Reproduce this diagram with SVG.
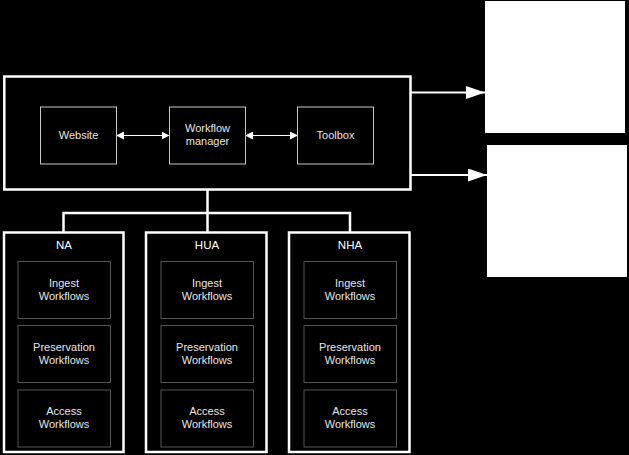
<svg xmlns="http://www.w3.org/2000/svg" width="629" height="455" viewBox="0 0 629 455">
<defs>
<marker id="ah" markerWidth="8" markerHeight="8" refX="7" refY="4" orient="auto-start-reverse" markerUnits="userSpaceOnUse"><path d="M0,0 L8,4 L0,8 Z" fill="#fff"/></marker>
<marker id="big" markerWidth="20" markerHeight="13" refX="19" refY="6.5" orient="auto" markerUnits="userSpaceOnUse"><path d="M0,0 L19,6.5 L0,13 Z" fill="#fff"/></marker>
</defs>
<style>
.outer{fill:none;stroke:#fff;stroke-width:2.5}
.top{fill:#000;stroke:#c8c8c8;stroke-width:1}
.inner{fill:#000;stroke:#555;stroke-width:1}
.white{fill:#fff}
text{font-family:"Liberation Sans",Arial,sans-serif;font-size:11px;fill:#e6e6e6;text-anchor:middle}
.lbl{font-size:11.5px;fill:#fff}
.conn{stroke:#fff;fill:none}
</style>
<rect width="629" height="455" fill="#000"/>
<g id="main">
<rect class="outer" x="4.3" y="76.5" width="406.2" height="113"/>
</g>
<g id="connectors">
<path class="conn" stroke-width="2.5" d="M207.5,190 V213 M63.5,232 V213 H350 V232 M207.5,213 V232"/>
<line class="conn" stroke-width="1.2" x1="117" y1="135.5" x2="168.5" y2="135.5" marker-start="url(#ah)" marker-end="url(#ah)"/>
<line class="conn" stroke-width="1.2" x1="246" y1="135.5" x2="297" y2="135.5" marker-start="url(#ah)" marker-end="url(#ah)"/>
<line class="conn" stroke-width="2" x1="411" y1="92.5" x2="485" y2="92.5" marker-end="url(#big)"/>
<line class="conn" stroke-width="2" x1="411" y1="175" x2="487" y2="175" marker-end="url(#big)"/>
</g>
<g id="website"><rect class="top" x="40.5" y="107" width="76" height="57"/><text x="78.5" y="139">Website</text></g>
<g id="workflow-manager"><rect class="top" x="169.5" y="107" width="76" height="57"/><text x="207.5" y="132">Workflow</text><text x="207.5" y="145">manager</text></g>
<g id="toolbox"><rect class="top" x="297.5" y="107" width="76" height="57"/><text x="335.5" y="139">Toolbox</text></g>
<g id="out1"><rect class="white" x="485" y="1" width="140" height="132"/></g>
<g id="out2"><rect class="white" x="487" y="145" width="140" height="132"/></g>
<g id="na">
<rect class="outer" x="4" y="232.5" width="119.5" height="219.5"/>
<text class="lbl" x="64" y="249">NA</text>
<rect class="inner" x="18" y="261.5" width="92.5" height="57"/><text x="64" y="287">Ingest</text><text x="64" y="300">Workflows</text>
<rect class="inner" x="18" y="325.5" width="92.5" height="57"/><text x="64" y="351">Preservation</text><text x="64" y="364">Workflows</text>
<rect class="inner" x="18" y="390" width="92.5" height="57"/><text x="64" y="415">Access</text><text x="64" y="428">Workflows</text>
</g>
<g id="hua">
<rect class="outer" x="146" y="232.5" width="120.5" height="219.5"/>
<text class="lbl" x="207" y="249">HUA</text>
<rect class="inner" x="161" y="261.5" width="92.5" height="57"/><text x="207" y="287">Ingest</text><text x="207" y="300">Workflows</text>
<rect class="inner" x="161" y="325.5" width="92.5" height="57"/><text x="207" y="351">Preservation</text><text x="207" y="364">Workflows</text>
<rect class="inner" x="161" y="390" width="92.5" height="57"/><text x="207" y="415">Access</text><text x="207" y="428">Workflows</text>
</g>
<g id="nha">
<rect class="outer" x="289" y="232.5" width="120.5" height="219.5"/>
<text class="lbl" x="350" y="249">NHA</text>
<rect class="inner" x="304" y="261.5" width="92.5" height="57"/><text x="350" y="287">Ingest</text><text x="350" y="300">Workflows</text>
<rect class="inner" x="304" y="325.5" width="92.5" height="57"/><text x="350" y="351">Preservation</text><text x="350" y="364">Workflows</text>
<rect class="inner" x="304" y="390" width="92.5" height="57"/><text x="350" y="415">Access</text><text x="350" y="428">Workflows</text>
</g>
</svg>
